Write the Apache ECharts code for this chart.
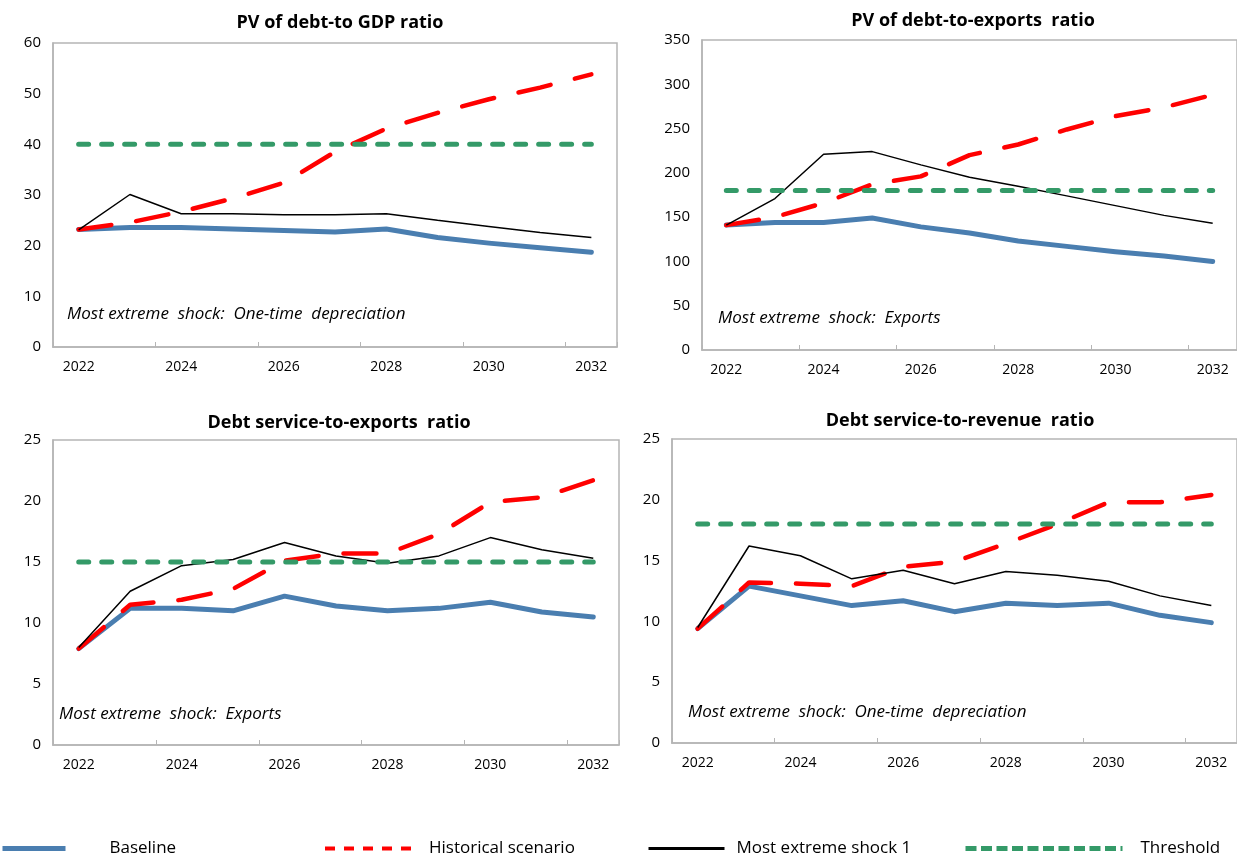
<!DOCTYPE html>
<html>
<head>
<meta charset="utf-8">
<title>Debt sustainability charts</title>
<script src="https://cdn.jsdelivr.net/npm/echarts@6/dist/echarts.min.js"></script>
<style>
  html, body { margin: 0; padding: 0; background: #fff; }
  #chart { width: 1237px; height: 855px; }
</style>
</head>
<body>
<div id="chart"></div>
<script>
// x categories
const years = ['2022', '2023', '2024', '2025', '2026', '2027', '2028', '2029', '2030', '2031', '2032']

// PV of debt-to GDP ratio
const gdpBaseline = [23.2, 23.6, 23.6, 23.3, 23.0, 22.7, 23.3, 21.6, 20.5, 19.6, 18.7]
const gdpHistorical = [23.2, 24.6, 26.7, 29.3, 32.4, 38.5, 43.1, 46.2, 48.9, 51.2, 53.8]
const gdpShock = [23.1, 30.1, 26.3, 26.3, 26.1, 26.1, 26.3, 25.0, 23.8, 22.6, 21.6]
const gdpThreshold = [40, 40, 40, 40, 40, 40, 40, 40, 40, 40, 40]

// PV of debt-to-exports ratio
const expBaseline = [141, 144, 144, 149, 139, 132, 123, 117, 111, 106, 100]
const expHistorical = [141, 150, 166, 187, 196, 220, 232, 249, 264, 274, 288]
const expShock = [141, 171, 221, 224, 209, 195, 185, 174, 163, 152, 143]
const expThreshold = [180, 180, 180, 180, 180, 180, 180, 180, 180, 180, 180]

// Debt service-to-exports ratio
const dsxBaseline = [7.9, 11.2, 11.2, 11.0, 12.2, 11.4, 11.0, 11.2, 11.7, 10.9, 10.5]
const dsxHistorical = [7.9, 11.5, 11.9, 12.8, 15.1, 15.7, 15.7, 17.3, 19.9, 20.3, 21.7]
const dsxShock = [8.0, 12.6, 14.7, 15.2, 16.6, 15.5, 14.9, 15.5, 17.0, 16.0, 15.3]
const dsxThreshold = [15, 15, 15, 15, 15, 15, 15, 15, 15, 15, 15]

// Debt service-to-revenue ratio
const dsrBaseline = [9.4, 12.9, 12.1, 11.3, 11.7, 10.8, 11.5, 11.3, 11.5, 10.5, 9.9]
const dsrHistorical = [9.4, 13.2, 13.1, 12.9, 14.5, 14.9, 16.4, 18.0, 19.8, 19.8, 20.4]
const dsrShock = [9.5, 16.2, 15.4, 13.5, 14.2, 13.1, 14.1, 13.8, 13.3, 12.1, 11.3]
const dsrThreshold = [18, 18, 18, 18, 18, 18, 18, 18, 18, 18, 18]

const panelTitles = ['PV of debt-to GDP ratio', 'PV of debt-to-exports  ratio', 'Debt service-to-exports  ratio', 'Debt service-to-revenue  ratio']
const panelNotes = ['Most extreme  shock:  One-time  depreciation', 'Most extreme  shock:  Exports', 'Most extreme  shock:  Exports', 'Most extreme  shock:  One-time  depreciation']
const yMax = [60, 350, 25, 25]
const yStep = [10, 50, 5, 5]

const panelData = [
  [gdpBaseline, gdpHistorical, gdpShock, gdpThreshold],
  [expBaseline, expHistorical, expShock, expThreshold],
  [dsxBaseline, dsxHistorical, dsxShock, dsxThreshold],
  [dsrBaseline, dsrHistorical, dsrShock, dsrThreshold]
]

const seriesNames = ['Baseline', 'Historical scenario', 'Most extreme shock 1', 'Threshold']

// layout
const grids = [
  { left: 53, top: 43, width: 564, height: 304 },
  { left: 702, top: 40, width: 537, height: 310 },
  { left: 53, top: 440, width: 566, height: 305 },
  { left: 672, top: 439, width: 567, height: 304 }
]
const titlePos = [[335, 9], [968, 7], [334, 409], [955, 407]]
const notePos = [[67, 318], [718, 322], [59, 718], [688, 716]]

const font = '"Open Sans", "Noto Sans", sans-serif'
const borderGray = '#b5b5b5'

const lineStyles = [
  { color: '#4a7eb0', width: 5, type: 'solid', cap: 'round', join: 'round' },
  { color: '#ff0000', width: 4.5, type: [33, 25], cap: 'round', join: 'round' },
  { color: '#000000', width: 1.5, type: 'solid' },
  { color: '#349a68', width: 5, type: [10, 13], cap: 'round' }
]

// legend samples
const legendLeft = [0, 323, 647, 963]
const legendWidth = [63, 87, 76, 157]
const legendTextGap = [39, 12, 7, 13]
const legendLine = [
  { color: '#4a7eb0', width: 5, type: 'solid', cap: 'butt' },
  { color: '#ff0000', width: 4, type: [10, 9], cap: 'butt' },
  { color: '#000000', width: 3, type: 'solid', cap: 'butt' },
  { color: '#349a68', width: 5, type: [11, 4.5], cap: 'butt' }
]

const chart = echarts.init(document.getElementById('chart'))

const option = {
  animation: false,
  backgroundColor: '#fff',
  textStyle: { fontFamily: font },
  title: panelTitles.map((t, i) => ({
    text: t,
    left: titlePos[i][0],
    top: titlePos[i][1],
    textAlign: 'center',
    textStyle: { fontFamily: font, fontSize: 18, fontWeight: 'bold', color: '#000' }
  })),
  grid: grids.map(g => Object.assign({ show: true, borderColor: borderGray, borderWidth: 1.5, backgroundColor: 'transparent' }, g)),
  xAxis: grids.map((g, i) => ({
    type: 'category',
    gridIndex: i,
    data: years,
    boundaryGap: true,
    axisLine: { lineStyle: { color: borderGray, width: 1.5 } },
    axisTick: { show: true, inside: true, interval: 1, length: 5, lineStyle: { color: borderGray } },
    axisLabel: { interval: 1, color: '#000', fontSize: 14, fontFamily: font, margin: 13 },
    splitLine: { show: false }
  })),
  yAxis: grids.map((g, i) => ({
    type: 'value',
    gridIndex: i,
    min: 0,
    max: yMax[i],
    interval: yStep[i],
    axisLine: { show: true, lineStyle: { color: borderGray, width: 1.5 } },
    axisTick: { show: false },
    axisLabel: { color: '#000', fontSize: 15, fontFamily: font, margin: 12 },
    splitLine: { show: false }
  })),
  legend: seriesNames.map((name, k) => ({
    data: [name],
    left: legendLeft[k],
    top: 840,
    itemWidth: legendWidth[k],
    itemHeight: 16,
    padding: 0,
    itemStyle: { opacity: 0 },
    lineStyle: legendLine[k],
    textStyle: { fontFamily: font, fontSize: 17, color: '#000', padding: [0, 0, 0, legendTextGap[k]] }
  })),
  series: [],
  graphic: panelNotes.map((n, i) => ({
    type: 'text',
    left: notePos[i][0],
    top: notePos[i][1] - 12,
    style: { text: n, font: 'italic 17px ' + font, fill: '#000' }
  }))
}

panelData.forEach((sets, i) => {
  sets.forEach((vals, k) => {
    option.series.push({
      name: seriesNames[k],
      type: 'line',
      xAxisIndex: i,
      yAxisIndex: i,
      data: vals,
      symbol: 'none',
      smooth: false,
      lineStyle: lineStyles[k],
      itemStyle: { color: lineStyles[k].color },
      z: 2 + k
    })
  })
})

chart.setOption(option)
window.addEventListener('resize', () => chart.resize())
</script>
</body>
</html>
